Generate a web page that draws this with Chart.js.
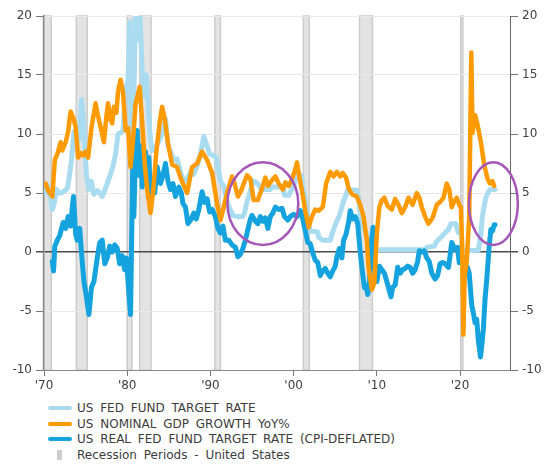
<!DOCTYPE html>
<html>
<head>
<meta charset="utf-8">
<script src="https://cdn.jsdelivr.net/npm/chart.js@4.4.1/dist/chart.umd.min.js"></script>
<style>
  body { margin: 0; background: #fff; }
  #wrap { position: relative; width: 550px; height: 466px; }
  #chart { position: absolute; left: 0; top: 0; }
  #legend { position: absolute; left: 48px; top: 400px; font: 12px "DejaVu Sans", sans-serif; word-spacing: 3px; color: #3c3c3c; }
  .row { height: 15.7px; display: flex; align-items: center; white-space: nowrap; }
  .sw { width: 24px; height: 4px; border-radius: 2px; margin-right: 5px; }
  .rec { width: 5px; height: 10px; background: #cdcdcd; margin: 0 15px 0 9px; }
</style>
</head>
<body>
<div id="wrap">
  <canvas id="chart" width="550" height="400"></canvas>
  <div id="legend">
    <div class="row"><span class="sw" style="background:#a9dcf0"></span>US FED FUND TARGET RATE</div>
    <div class="row"><span class="sw" style="background:#ff9a00"></span>US NOMINAL GDP GROWTH YoY%</div>
    <div class="row"><span class="sw" style="background:#14a3de"></span>US REAL FED FUND TARGET RATE (CPI-DEFLATED)</div>
    <div class="row"><span class="rec"></span>Recession Periods - United States</div>
  </div>
</div>
<script>
// axis setup
const xTicks = [1970, 1980, 1990, 2000, 2010, 2020];
const yMin = -10, yMax = 20;

// recession periods (start / end, decimal years)
const recStart = [1969.92, 1973.88, 1980.0, 1981.5, 1990.54, 2001.17, 2007.92, 2020.08];
const recEnd   = [1970.87, 1975.2, 1980.55, 1982.87, 1991.2, 2001.87, 2009.46, 2020.33];

// US fed fund target rate
const fedYears = [1970.2,1970.5,1970.8,1971.0,1971.2,1971.5,1971.8,1972.1,1972.5,1972.8,1973.0,1973.3,1973.6,1973.9,1974.2,1974.5,1974.7,1974.9,1975.1,1975.4,1975.7,1976.0,1976.4,1976.7,1977.0,1977.4,1977.7,1978.0,1978.3,1978.6,1978.9,1979.2,1979.5,1979.8,1980.1,1980.3,1980.45,1980.6,1980.8,1981.0,1981.3,1981.5,1981.8,1982.0,1982.3,1982.5,1982.8,1983.0,1983.5,1983.9,1984.3,1984.6,1984.9,1985.2,1985.6,1986.0,1986.4,1986.8,1987.2,1987.7,1988.0,1988.4,1988.8,1989.2,1989.5,1989.9,1990.3,1990.7,1990.9,1991.2,1991.6,1991.9,1992.3,1992.7,1993.3,1993.9,1994.1,1994.4,1994.7,1994.9,1995.2,1995.5,1995.9,1996.1,1997.2,1997.3,1998.7,1998.9,1999.4,1999.7,2000.0,2000.4,2000.9,2001.1,2001.4,2001.7,2001.95,2002.9,2003.0,2003.5,2004.4,2004.6,2005.0,2005.5,2006.0,2006.5,2007.6,2007.8,2008.0,2008.3,2008.8,2008.95,2015.9,2016.0,2016.9,2017.2,2017.5,2017.9,2018.3,2018.6,2018.9,2019.5,2019.6,2019.8,2020.15,2020.25,2022.2,2022.35,2022.5,2022.7,2022.9,2023.1,2023.4,2023.6,2024.2];
const fedValues = [5.0,5.6,4.5,3.6,4.0,5.3,5.0,5.0,5.2,5.4,6.2,7.8,10.2,10.0,9.5,12.9,11.5,9.0,6.5,5.3,6.0,4.9,5.2,5.0,4.7,5.4,6.0,6.6,7.3,8.3,10.0,10.1,10.3,13.8,14.5,19.5,11.0,9.0,13.0,20.5,18.0,20.5,15.5,13.2,15.0,12.5,9.5,8.6,9.0,9.5,10.3,11.3,9.0,8.5,7.8,7.9,6.8,5.9,6.2,6.9,6.6,7.3,8.3,9.8,9.2,8.3,8.2,8.0,7.2,6.0,5.6,4.5,3.7,3.1,3.0,3.0,3.3,4.3,4.9,5.5,6.0,5.9,5.6,5.3,5.3,5.5,5.5,4.8,4.8,5.2,5.6,6.5,6.5,5.5,4.3,3.0,1.8,1.7,1.25,1.0,1.0,1.5,2.3,3.1,4.3,5.25,5.25,4.6,3.2,2.1,1.5,0.2,0.2,0.4,0.5,0.9,1.1,1.4,1.7,1.9,2.4,2.4,2.1,1.6,1.6,0.1,0.15,0.8,1.6,3.1,3.9,4.6,5.1,5.3,5.3];

// US nominal GDP growth YoY%
const gdpYears = [1970.2,1970.5,1971.0,1971.3,1971.6,1972.0,1972.2,1972.6,1972.9,1973.2,1973.5,1973.8,1974.1,1974.4,1974.7,1975.0,1975.3,1975.7,1976.2,1976.5,1976.8,1977.2,1977.5,1977.7,1978.0,1978.2,1978.4,1978.7,1978.9,1979.2,1979.5,1979.8,1980.1,1980.4,1980.7,1981.0,1981.5,1981.8,1982.1,1982.4,1982.8,1983.1,1983.5,1983.9,1984.2,1984.5,1984.9,1985.4,1986.0,1986.4,1986.7,1987.2,1987.8,1988.4,1989.0,1989.6,1990.2,1990.8,1991.2,1991.6,1992.0,1992.6,1992.9,1993.3,1993.7,1994.0,1994.4,1994.8,1995.2,1995.7,1996.0,1996.3,1996.6,1996.9,1997.3,1997.8,1998.2,1998.7,1999.0,1999.4,1999.8,2000.2,2000.4,2000.7,2001.0,2001.4,2001.8,2002.2,2002.6,2003.0,2003.5,2003.9,2004.4,2004.8,2005.2,2005.6,2005.9,2006.3,2006.6,2007.0,2007.6,2008.0,2008.4,2008.8,2009.0,2009.4,2009.7,2010.0,2010.3,2010.6,2010.9,2011.3,2011.8,2012.2,2012.6,2013.0,2013.4,2013.8,2014.3,2014.8,2015.1,2015.4,2015.8,2016.2,2016.7,2017.2,2017.7,2018.0,2018.4,2018.7,2019.0,2019.3,2019.6,2019.9,2020.1,2020.25,2020.4,2020.55,2020.8,2021.1,2021.35,2021.5,2021.8,2022.1,2022.5,2022.9,2023.3,2023.6,2023.9,2024.1];
const gdpValues = [5.8,5.2,4.7,7.8,8.3,9.3,8.6,9.3,10.2,11.9,11.4,10.6,8.0,8.4,8.2,8.5,8.0,10.5,12.6,11.5,10.6,9.3,11.5,12.6,11.2,10.9,12.3,11.8,13.6,14.6,13.5,10.3,10.5,7.2,9.5,12.5,14.0,11.0,7.5,5.3,3.3,5.0,8.5,11.0,12.3,11.3,9.2,7.4,7.2,6.3,5.8,5.0,7.2,7.5,8.5,7.8,6.7,4.1,2.7,3.8,5.0,6.4,5.8,4.7,5.2,5.8,6.5,6.2,4.4,4.4,5.0,5.6,6.3,5.6,6.0,6.4,5.8,5.3,5.9,5.6,6.2,7.0,7.6,6.3,5.2,3.5,2.1,3.0,3.6,3.5,3.8,5.8,6.8,6.4,6.8,6.4,6.7,6.3,5.4,4.9,4.7,4.0,3.0,1.0,-1.3,-3.2,-2.6,1.6,3.8,4.4,4.6,3.9,3.6,4.5,4.0,3.3,3.8,4.6,4.0,5.0,4.6,3.8,3.0,2.4,2.9,4.0,4.3,4.6,5.8,5.3,3.8,4.3,4.6,4.0,3.8,0.5,-7.0,-2.0,-0.8,3.0,16.9,10.1,11.6,10.8,9.3,7.4,6.2,5.8,6.0,5.6];

// US real fed fund target rate (CPI-deflated)
const realYears = [1971.0,1971.15,1971.3,1971.6,1971.9,1972.3,1972.6,1972.9,1973.2,1973.4,1973.55,1973.8,1974.0,1974.3,1974.5,1974.8,1975.1,1975.4,1975.7,1976.0,1976.4,1976.7,1977.0,1977.3,1977.6,1977.9,1978.2,1978.5,1978.8,1979.1,1979.4,1979.7,1979.9,1980.2,1980.4,1980.55,1980.65,1980.8,1981.0,1981.2,1981.4,1981.6,1981.8,1982.0,1982.2,1982.45,1982.6,1982.8,1983.0,1983.3,1983.6,1984.0,1984.3,1984.6,1984.9,1985.2,1985.5,1985.8,1986.2,1986.5,1986.7,1987.0,1987.3,1987.7,1988.0,1988.3,1988.6,1989.0,1989.3,1989.6,1989.9,1990.2,1990.6,1990.9,1991.2,1991.5,1991.8,1992.2,1992.6,1993.0,1993.3,1993.6,1993.9,1994.2,1994.5,1994.8,1995.0,1995.4,1995.7,1996.0,1996.3,1996.6,1996.9,1997.2,1997.5,1997.8,1998.2,1998.6,1998.9,1999.3,1999.6,2000.0,2000.4,2000.8,2001.1,2001.4,2001.7,2002.0,2002.3,2002.6,2002.9,2003.2,2003.5,2003.8,2004.1,2004.4,2004.7,2005.0,2005.2,2005.5,2005.8,2006.0,2006.3,2006.6,2006.8,2007.1,2007.4,2007.7,2008.0,2008.2,2008.5,2008.7,2008.9,2009.1,2009.3,2009.55,2009.8,2010.0,2010.3,2010.6,2010.9,2011.2,2011.5,2011.7,2011.9,2012.2,2012.5,2012.8,2013.1,2013.4,2013.7,2014.0,2014.3,2014.6,2014.9,2015.1,2015.4,2015.7,2016.0,2016.3,2016.6,2017.0,2017.3,2017.6,2017.9,2018.2,2018.6,2018.8,2019.0,2019.4,2019.7,2019.9,2020.1,2020.3,2020.6,2020.9,2021.1,2021.4,2021.6,2021.8,2022.0,2022.2,2022.45,2022.6,2022.8,2023.0,2023.2,2023.5,2023.7,2023.9,2024.1,2024.2];
const realValues = [-0.8,-1.6,0.5,1.0,1.4,2.5,2.0,3.0,2.2,3.8,4.7,1.5,1.0,2.0,0.0,-2.5,-3.8,-5.3,-3.0,-2.5,-0.5,0.8,1.0,-1.0,-0.5,0.5,0.0,0.6,0.3,-1.0,-0.3,-1.5,-0.5,-3.5,-5.3,2.0,7.0,3.0,8.5,10.3,6.5,9.0,5.5,7.5,8.5,6.0,8.0,4.5,5.5,5.0,7.2,5.8,6.5,7.5,6.0,5.3,5.8,4.7,5.5,5.0,4.1,3.8,2.4,2.8,3.3,2.8,3.6,5.1,4.2,4.5,3.4,3.6,3.0,2.0,1.6,2.2,1.0,1.0,0.6,0.4,-0.4,-0.2,0.3,1.0,1.9,2.8,3.1,2.6,2.4,3.0,2.6,2.9,2.0,3.0,3.3,3.8,3.6,3.7,3.0,2.7,3.0,3.2,3.0,3.5,2.8,1.8,0.8,0.7,-0.1,-0.7,-0.9,-2.0,-1.6,-1.4,-1.8,-2.1,-1.6,-1.2,-0.4,0.3,-0.5,1.0,1.5,2.5,3.5,2.8,3.0,2.4,0.0,-1.3,-3.0,-2.8,-3.6,-3.0,0.5,2.1,-1.5,-2.5,-1.2,-1.5,-1.8,-2.5,-3.3,-3.8,-3.0,-2.8,-1.3,-1.8,-1.5,-1.4,-1.2,-1.3,-1.8,-1.5,-0.8,0.1,0.0,0.1,-0.5,-0.8,-1.8,-2.3,-2.0,-1.0,-0.9,-1.0,-1.3,-0.3,0.8,0.2,0.4,-0.9,-0.8,-0.4,-1.2,-1.3,-1.8,-4.5,-5.2,-6.0,-5.7,-7.5,-8.9,-8.0,-6.5,-4.0,-2.4,0.5,1.9,1.8,2.3,2.3];

// highlighted areas (centre year, centre value, half-width in years, half-height in %)
const circleYears = [1996.3, 2024.0];
const circleValues = [4.1, 4.1];
const circleRx = [4.26, 2.94];
const circleRy = [3.5, 3.5];

const toPoints = (xs, ys) => xs.map((x, i) => ({ x: x, y: ys[i] }));

// grey recession bands, drawn before the grid
const recessionBands = {
  id: 'recessionBands',
  beforeDraw(chart) {
    const { ctx, chartArea: a, scales: { x } } = chart;
    ctx.save();
    recStart.forEach((s, i) => {
      const x0 = x.getPixelForValue(s);
      const x1 = x.getPixelForValue(recEnd[i]);
      ctx.fillStyle = '#e3e3e3';
      ctx.fillRect(x0, a.top, x1 - x0, a.bottom - a.top);
      ctx.strokeStyle = '#cbcbcb';
      ctx.lineWidth = 1.5;
      ctx.strokeRect(x0, a.top, x1 - x0, a.bottom - a.top);
    });
    ctx.restore();
  }
};

// purple ellipses around the highlighted periods
const highlightCircles = {
  id: 'highlightCircles',
  afterDatasetsDraw(chart) {
    const { ctx, scales: { x, y } } = chart;
    ctx.save();
    ctx.strokeStyle = '#a557b8';
    ctx.lineWidth = 2.5;
    circleYears.forEach((cx, i) => {
      const px = x.getPixelForValue(cx);
      const py = y.getPixelForValue(circleValues[i]);
      const rx = x.getPixelForValue(cx + circleRx[i]) - px;
      const ry = py - y.getPixelForValue(circleValues[i] + circleRy[i]);
      ctx.beginPath();
      ctx.ellipse(px, py, rx, ry, 0, 0, Math.PI * 2);
      ctx.stroke();
    });
    ctx.restore();
  }
};

const lineStyle = {
  pointRadius: 0,
  tension: 0,
  borderJoinStyle: 'round',
  borderCapStyle: 'round',
  clip: 0
};

const tickFont = { family: '"DejaVu Sans", sans-serif', size: 12 };
const zeroOr = (ctx, a, b) => (ctx.tick && ctx.tick.value === 0 ? a : b);

new Chart(document.getElementById('chart'), {
  type: 'line',
  data: {
    datasets: [
      Object.assign({ label: 'US NOMINAL GDP GROWTH YoY%', data: toPoints(gdpYears, gdpValues), borderColor: '#ff9a00', borderWidth: 4.5 }, lineStyle),
      Object.assign({ label: 'US REAL FED FUND TARGET RATE (CPI-DEFLATED)', data: toPoints(realYears, realValues), borderColor: '#14a3de', borderWidth: 5 }, lineStyle),
      Object.assign({ label: 'US FED FUND TARGET RATE', data: toPoints(fedYears, fedValues), borderColor: '#a9dcf0', borderWidth: 5 }, lineStyle)
    ]
  },
  options: {
    responsive: false,
    animation: false,
    devicePixelRatio: 1,
    layout: { padding: { top: 16, left: 0, right: 0, bottom: 0 } },
    plugins: { legend: { display: false }, tooltip: { enabled: false } },
    scales: {
      x: {
        type: 'linear',
        min: 1970,
        max: 2026,
        afterBuildTicks: s => { s.ticks = xTicks.map(v => ({ value: v })); },
        afterFit: s => { s.height = 30; },
        ticks: { callback: v => "'" + String(v).slice(2), color: '#404040', font: tickFont, padding: 3, maxRotation: 0 },
        grid: { drawOnChartArea: false, drawTicks: true, tickLength: 6, tickColor: '#777' },
        border: { display: true, color: '#888', width: 1 }
      },
      y: {
        position: 'left',
        min: yMin,
        max: yMax,
        afterFit: s => { s.width = 44; },
        ticks: { stepSize: 5, color: '#404040', font: tickFont, padding: 4 },
        grid: {
          color: ctx => zeroOr(ctx, '#4a4a4a', '#e8e8e8'),
          lineWidth: ctx => zeroOr(ctx, 1.5, 1),
          tickLength: 8,
          tickColor: ctx => zeroOr(ctx, '#4a4a4a', '#777')
        },
        border: { display: true, color: '#8a8a8a', width: 1.5 }
      },
      y2: {
        position: 'right',
        min: yMin,
        max: yMax,
        afterFit: s => { s.width = 40; },
        ticks: { stepSize: 5, color: '#404040', font: tickFont, padding: 4 },
        grid: {
          drawOnChartArea: false,
          tickLength: 8,
          lineWidth: ctx => zeroOr(ctx, 1.5, 1),
          tickColor: ctx => zeroOr(ctx, '#4a4a4a', '#777')
        },
        border: { display: true, color: '#666', width: 1 }
      }
    }
  },
  plugins: [recessionBands, highlightCircles]
});
</script>
</body>
</html>
